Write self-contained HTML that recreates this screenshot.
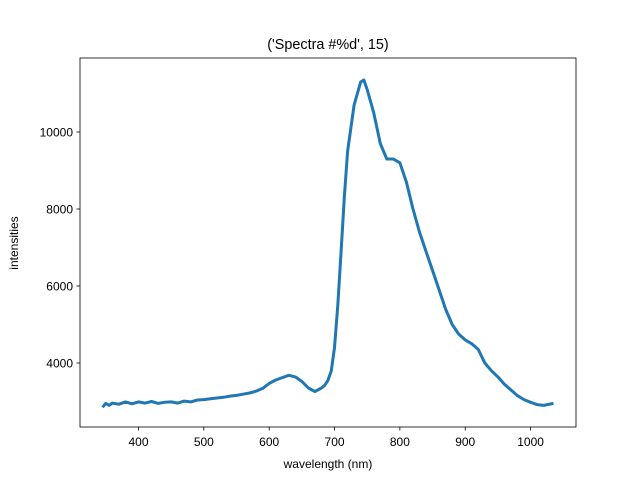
<!DOCTYPE html>
<html><head><meta charset="utf-8"><style>
body{margin:0;background:#fff}
svg{display:block;font-family:"Liberation Sans","DejaVu Sans",sans-serif}
</style></head><body>
<svg id="chart" width="640" height="480">
<rect x="0" y="0" width="640" height="480" fill="#fff"/>
<text x="328" y="49" text-anchor="middle" font-size="14.4" fill="#000">('Spectra #%d', 15)</text>
<g id="plot"></g>
<rect x="80" y="58" width="496" height="369" fill="none" stroke="#000" stroke-width="0.8"/>
<g id="xt"></g>
<g id="yt"></g>
<text x="328" y="468" text-anchor="middle" font-size="12">wavelength (nm)</text>
<text x="18" y="243" text-anchor="middle" font-size="12" transform="rotate(-90 18 243)">intensities</text>
</svg>
<script>
const wavelengths=[345,350,355,360,370,380,390,400,410,420,430,440,450,460,470,480,490,500,510,520,530,540,550,560,570,580,590,600,610,620,630,640,650,660,670,680,685,690,695,700,705,710,715,720,730,740,745,750,760,770,780,790,800,810,820,830,840,850,860,870,880,890,900,910,920,930,940,950,960,970,980,990,1000,1010,1020,1035];
const intensities=[2850,2950,2900,2960,2930,2990,2940,2990,2960,3000,2950,2980,2990,2960,3010,2990,3040,3050,3070,3090,3110,3140,3160,3190,3220,3270,3340,3470,3560,3620,3680,3640,3520,3350,3260,3350,3420,3550,3800,4400,5500,6900,8300,9500,10700,11300,11350,11100,10500,9700,9300,9300,9200,8700,8000,7400,6900,6400,5900,5400,5000,4750,4600,4500,4350,4000,3800,3640,3450,3300,3150,3050,2980,2920,2900,2950];
const xTicks=[400,500,600,700,800,900,1000];
const yTicks=[4000,6000,8000,10000];
const NS='http://www.w3.org/2000/svg';
const xmin=310.5,xmax=1069.5,ymin=2338,ymax=11922;
function X(v){return 80+(v-xmin)/(xmax-xmin)*496;}
function Y(v){return 427-(v-ymin)/(ymax-ymin)*369;}
const plot=document.getElementById('plot');
const line=document.createElementNS(NS,'polyline');


line.setAttribute('points',wavelengths.map((w,i)=>X(w).toFixed(1)+','+Y(intensities[i]).toFixed(1)).join(' '));
line.setAttribute('fill','none');line.setAttribute('stroke','#1f77b4');line.setAttribute('stroke-width','3');line.setAttribute('stroke-linejoin','round');
plot.appendChild(line);
const xt=document.getElementById('xt');
xTicks.forEach(t=>{
 const l=document.createElementNS(NS,'line');
 
 
 l.setAttribute('x1',X(t));l.setAttribute('x2',X(t));l.setAttribute('y1',427);l.setAttribute('y2',430.5);l.setAttribute('stroke','#000');l.setAttribute('stroke-width','0.8');
 xt.appendChild(l);
 const s=document.createElementNS(NS,'text');
 
 
 s.setAttribute('x',X(t));s.setAttribute('y',446);s.setAttribute('text-anchor','middle');s.setAttribute('font-size','12');
 s.textContent=t;xt.appendChild(s);
});
const yt=document.getElementById('yt');
yTicks.forEach(t=>{
 const l=document.createElementNS(NS,'line');
 
 
 l.setAttribute('x1',76.5);l.setAttribute('x2',80);l.setAttribute('y1',Y(t));l.setAttribute('y2',Y(t));l.setAttribute('stroke','#000');l.setAttribute('stroke-width','0.8');
 yt.appendChild(l);
 const s=document.createElementNS(NS,'text');
 
 
 s.setAttribute('x',73);s.setAttribute('y',Y(t)+4.5);s.setAttribute('text-anchor','end');s.setAttribute('font-size','12');
 s.textContent=t;yt.appendChild(s);
});
</script>
</body></html>
